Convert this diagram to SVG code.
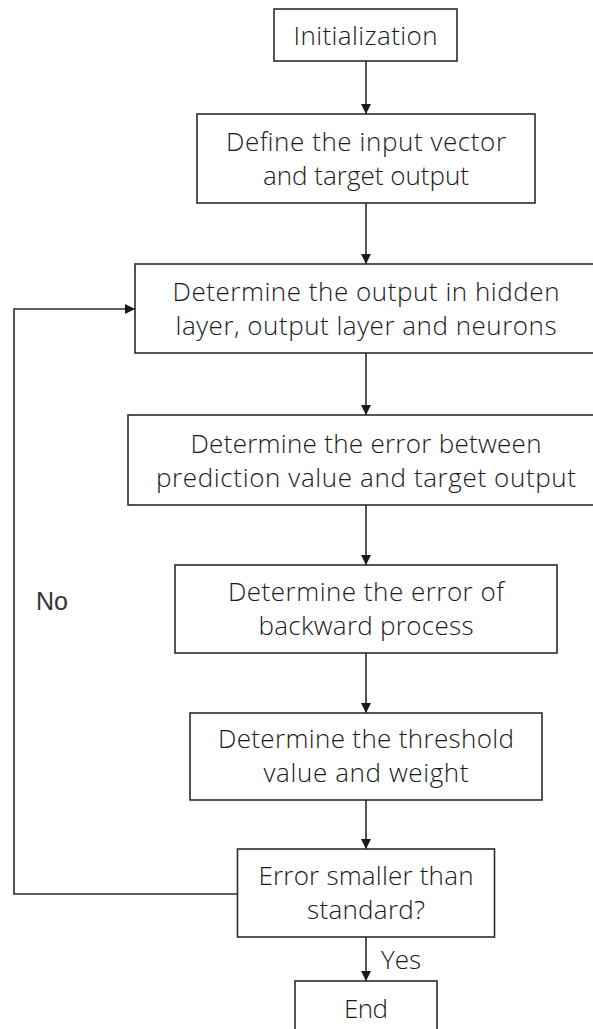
<svg xmlns="http://www.w3.org/2000/svg" width="593" height="1029" viewBox="0 0 593 1029">
  <defs>
    <style>
      .box { fill: #ffffff; stroke: #2b2b2b; stroke-width: 1.6; }
      .lbl { font-family: "Open Sans", "Noto Sans", sans-serif; font-size: 26px; font-weight: 300; fill: #1a1a1a; text-anchor: middle; }
      .tag { font-family: "Liberation Sans", Arial, sans-serif; font-size: 25px; fill: #333333; }
      .edge { fill: none; stroke: #2b2b2b; stroke-width: 1.6; }
    </style>
    <marker id="arrow" viewBox="0 0 10 10" refX="10" refY="5" markerWidth="10" markerHeight="10" markerUnits="userSpaceOnUse" orient="auto">
      <path d="M0,0 L10,5 L0,10 Z" fill="#1a1a1a"/>
    </marker>
  </defs>
  <rect width="593" height="1029" fill="#ffffff"/>

  <g id="connectors">
    <line class="edge" x1="366" y1="61" x2="366" y2="114" marker-end="url(#arrow)"/>
    <line class="edge" x1="366" y1="203" x2="366" y2="264" marker-end="url(#arrow)"/>
    <line class="edge" x1="366" y1="353" x2="366" y2="415" marker-end="url(#arrow)"/>
    <line class="edge" x1="366" y1="505" x2="366" y2="565" marker-end="url(#arrow)"/>
    <line class="edge" x1="366" y1="653" x2="366" y2="713" marker-end="url(#arrow)"/>
    <line class="edge" x1="366" y1="800" x2="366" y2="849" marker-end="url(#arrow)"/>
    <line class="edge" x1="366" y1="937" x2="366" y2="981" marker-end="url(#arrow)"/>
    <polyline class="edge" points="238,894 14,894 14,309 135,309" marker-end="url(#arrow)"/>
    <text class="tag" x="36" y="610">No</text>
    <text class="lbl" x="401" y="969" font-size="23">Yes</text>
  </g>

  <g id="init">
    <rect class="box" x="274" y="9" width="183" height="52"/>
    <text class="lbl" x="365.5" y="45" textLength="144">Initialization</text>
  </g>

  <g id="define">
    <rect class="box" x="197" y="114" width="338" height="89"/>
    <text class="lbl" x="366" y="151" textLength="280">Define the input vector</text>
    <text class="lbl" x="366" y="185">and target output</text>
  </g>

  <g id="hidden-output">
    <rect class="box" x="135" y="264" width="462" height="89"/>
    <text class="lbl" x="366" y="301" textLength="387">Determine the output in hidden</text>
    <text class="lbl" x="366" y="335" textLength="381">layer, output layer and neurons</text>
  </g>

  <g id="prediction-error">
    <rect class="box" x="128" y="415" width="476" height="90"/>
    <text class="lbl" x="366" y="453" textLength="351">Determine the error between</text>
    <text class="lbl" x="366" y="487" textLength="420">prediction value and target output</text>
  </g>

  <g id="backward-error">
    <rect class="box" x="175" y="565" width="382" height="88"/>
    <text class="lbl" x="366" y="601" textLength="276">Determine the error of</text>
    <text class="lbl" x="366" y="635" textLength="215">backward process</text>
  </g>

  <g id="threshold">
    <rect class="box" x="190" y="713" width="352" height="87"/>
    <text class="lbl" x="366" y="748" textLength="296">Determine the threshold</text>
    <text class="lbl" x="366" y="782" textLength="205">value and weight</text>
  </g>

  <g id="check">
    <rect class="box" x="237.5" y="849" width="257" height="88"/>
    <text class="lbl" x="366" y="885" textLength="215">Error smaller than</text>
    <text class="lbl" x="366" y="919" textLength="118">standard?</text>
  </g>

  <g id="end">
    <rect class="box" x="295" y="981" width="142" height="60"/>
    <text class="lbl" x="366" y="1018" textLength="44">End</text>
  </g>
</svg>
